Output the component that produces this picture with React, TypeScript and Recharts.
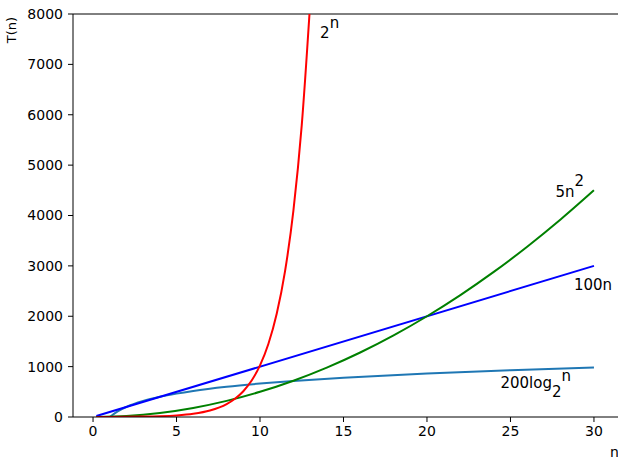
import { Label, Line, LineChart, ReferenceDot, ReferenceLine, XAxis, YAxis } from "recharts";

// sample points
const expN = [0.2, 1, 2, 3, 4, 5, 6, 7, 8, 8.5, 9, 9.5, 10, 10.5, 11, 11.5, 12, 12.5, 13];
const expT = [1.15, 2, 4, 8, 16, 32, 64, 128, 256, 362, 512, 724, 1024, 1448, 2048, 2896, 4096, 5793, 8192];

const quadN = [0.2, 2, 4, 6, 8, 10, 12, 14, 16, 18, 20, 22, 24, 26, 28, 30];
const quadT = [0.2, 20, 80, 180, 320, 500, 720, 980, 1280, 1620, 2000, 2420, 2880, 3380, 3920, 4500];

const linN = [0.2, 30];
const linT = [20, 3000];

const logN = [1, 1.5, 2, 3, 4, 5, 6, 8, 10, 12, 15, 20, 25, 30];
const logT = [0, 117, 200, 317, 400, 464, 517, 600, 664, 717, 781, 864, 929, 981];

const xTicks = [0, 5, 10, 15, 20, 25, 30];
const yTicks = [0, 1000, 2000, 3000, 4000, 5000, 6000, 7000, 8000];

const font = "DejaVu Sans";

const zip = (ns: number[], ts: number[]) => ns.map((n, i) => ({ n, t: ts[i] }));

type Part = { s: string; dy?: number; size?: number };

function curveLabel(parts: Part[]) {
  return (props: any) => {
    const vb = props.viewBox || {};
    const x = (vb.x ?? 0) + (vb.width ?? 0) / 2;
    const y = (vb.y ?? 0) + (vb.height ?? 0) / 2;
    return (
      <text x={x} y={y} fontFamily={font} fontSize={15} fill="#000">
        {parts.map((p, i) => (
          <tspan key={i} dy={p.dy ?? 0} fontSize={p.size ?? 15}>
            {p.s}
          </tspan>
        ))}
      </text>
    );
  };
}

export default function App() {
  const tick = { fontSize: 14, fill: "#000", fontFamily: font };
  return (
    <div style={{ position: "absolute", left: 0, top: 0 }}>
      <LineChart width={618} height={459} margin={{ top: 14, right: 0, left: 0, bottom: 0 }}>
        <XAxis
          dataKey="n"
          type="number"
          domain={[-1.2, 31.44]}
          allowDataOverflow
          ticks={xTicks}
          tick={tick}
          tickSize={5}
          tickMargin={4}
          height={42}
          stroke="#000"
          tickLine={{ stroke: "#000" }}
        >
          <Label
            content={(props: any) => {
              const vb = props.viewBox;
              return (
                <text x={vb.x + vb.width - 8} y={vb.y + 40} fontFamily={font} fontSize={14} fill="#000">
                  n
                </text>
              );
            }}
          />
        </XAxis>
        <YAxis
          type="number"
          domain={[0, 8000]}
          allowDataOverflow
          ticks={yTicks}
          tick={tick}
          tickSize={5}
          tickMargin={5}
          width={73}
          stroke="#000"
          tickLine={{ stroke: "#000" }}
        >
          <Label
            content={(props: any) => {
              const vb = props.viewBox;
              const cx = vb.x + 11;
              const cy = vb.y + 16;
              return (
                <text
                  x={cx}
                  y={cy}
                  transform={`rotate(-90 ${cx} ${cy})`}
                  textAnchor="middle"
                  dominantBaseline="central"
                  fontFamily={font}
                  fontSize={13}
                  fill="#000"
                >
                  T(n)
                </text>
              );
            }}
          />
        </YAxis>
        <ReferenceLine y={8000} stroke="#000" strokeWidth={1} ifOverflow="extendDomain" />
        <Line data={zip(logN, logT)} dataKey="t" type="monotone" stroke="#1f77b4" strokeWidth={2} dot={false} isAnimationActive={false} />
        <Line data={zip(linN, linT)} dataKey="t" type="linear" stroke="#0000ff" strokeWidth={2} dot={false} isAnimationActive={false} />
        <Line data={zip(quadN, quadT)} dataKey="t" type="monotone" stroke="#008000" strokeWidth={2} dot={false} isAnimationActive={false} />
        <Line data={zip(expN, expT)} dataKey="t" type="monotone" stroke="#ff0000" strokeWidth={2} dot={false} isAnimationActive={false} />
        <ReferenceDot x={13.6} y={7524} r={1} fill="none" stroke="none" label={{ content: curveLabel([{ s: "2" }, { s: "n", dy: -10 }]) }} />
        <ReferenceDot x={27.7} y={4367} r={1} fill="none" stroke="none" label={{ content: curveLabel([{ s: "5n" }, { s: "2", dy: -11 }]) }} />
        <ReferenceDot x={28.8} y={2521} r={1} fill="none" stroke="none" label={{ content: curveLabel([{ s: "100n" }]) }} />
        <ReferenceDot
          x={24.4}
          y={576}
          r={1}
          fill="none"
          stroke="none"
          label={{ content: curveLabel([{ s: "200log" }, { s: "2", dy: 9 }, { s: "n", dy: -16 }]) }}
        />
      </LineChart>
    </div>
  );
}
